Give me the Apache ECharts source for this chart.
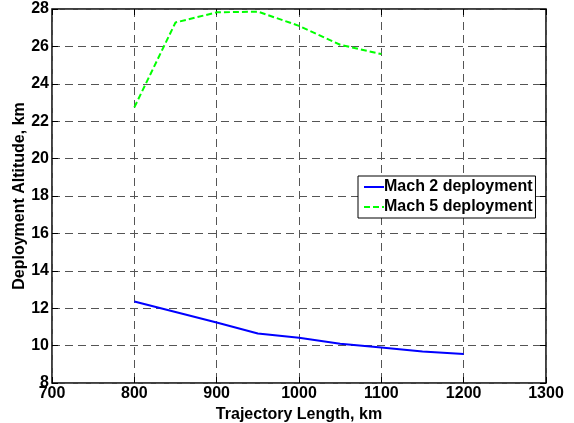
<!DOCTYPE html>
<html><head><meta charset="utf-8">
<script src="https://cdn.jsdelivr.net/npm/echarts@6/dist/echarts.min.js"></script>
<style>html,body{margin:0;padding:0;background:#fff}#c{width:574px;height:423px}</style>
</head><body><div id="c"></div>
<script>
const xTrajLen = [800, 850, 900, 950, 1000, 1050, 1100, 1150, 1200];
const mach2Alt = [12.36, 11.8, 11.24, 10.65, 10.42, 10.1, 9.9, 9.69, 9.55];
const xTrajLen5 = [800, 850, 900, 950, 1000, 1050, 1100];
const mach5Alt = [22.74, 27.28, 27.82, 27.86, 27.1, 26.09, 25.59];
const seriesNames = ['Mach 2 deployment', 'Mach 5 deployment'];
const xTitle = 'Trajectory Length, km';
const yTitle = 'Deployment Altitude, km';

const F = 'Liberation Sans, Arial, sans-serif';
const chart = echarts.init(document.getElementById('c'));
const grid = {color:'#555', type:[8,5], width:1};
const tick = {show:true, inside:true, length:6, lineStyle:{color:'#000', width:1}};
const lbl = {fontFamily:F, fontWeight:'bold', fontSize:16, color:'#000'};
chart.setOption({
  animation:false,
  backgroundColor:'#fff',
  grid:{left:52, right:28, top:9, bottom:40, containLabel:false, outerBoundsMode:'none',
        show:true, borderColor:'#000', borderWidth:1.5, backgroundColor:'transparent'},
  legend:{
    left:358, top:176, orient:'vertical', itemGap:4, itemWidth:20, itemHeight:14,
    padding:[3,3,3,5], borderColor:'#000', borderWidth:1, backgroundColor:'#fff',
    itemStyle:{opacity:0},
    textStyle:{fontFamily:F, fontWeight:'bold', fontSize:16, color:'#000', padding:[0,0,0,-5]},
    data:seriesNames
  },
  xAxis:[{type:'value', min:700, max:1300, interval:100,
    name:xTitle, nameLocation:'middle', nameGap:20,
    nameTextStyle:lbl,
    axisLine:{show:false}, axisTick:tick,
    axisLabel:Object.assign({margin:3, formatter:v=>String(v)}, lbl),
    splitLine:{show:true, lineStyle:grid}},
    {type:'value', position:'top', min:700, max:1300, interval:100,
    axisLine:{show:false}, axisTick:tick, axisLabel:{show:false}, splitLine:{show:false}}],
  yAxis:[{type:'value', min:8, max:28, interval:2,
    name:yTitle, nameLocation:'middle', nameGap:24, nameMoveOverlap:false,
    nameTextStyle:lbl,
    axisLine:{show:false}, axisTick:tick,
    axisLabel:Object.assign({margin:3}, lbl),
    splitLine:{show:true, lineStyle:grid}},
    {type:'value', position:'right', min:8, max:28, interval:2,
    axisLine:{show:false}, axisTick:tick, axisLabel:{show:false}, splitLine:{show:false}}],
  series:[
    {name:seriesNames[0], type:'line', data:xTrajLen.map((x,i)=>[x,mach2Alt[i]]), showSymbol:false, symbol:'none',
     lineStyle:{color:'#0000ff', width:2}, itemStyle:{color:'#0000ff'}},
    {name:seriesNames[1], type:'line', data:xTrajLen5.map((x,i)=>[x,mach5Alt[i]]), showSymbol:false, symbol:'none',
     lineStyle:{color:'#00ff00', width:2, type:[6,3]}, itemStyle:{color:'#00ff00'}}
  ]
});
</script></body></html>
